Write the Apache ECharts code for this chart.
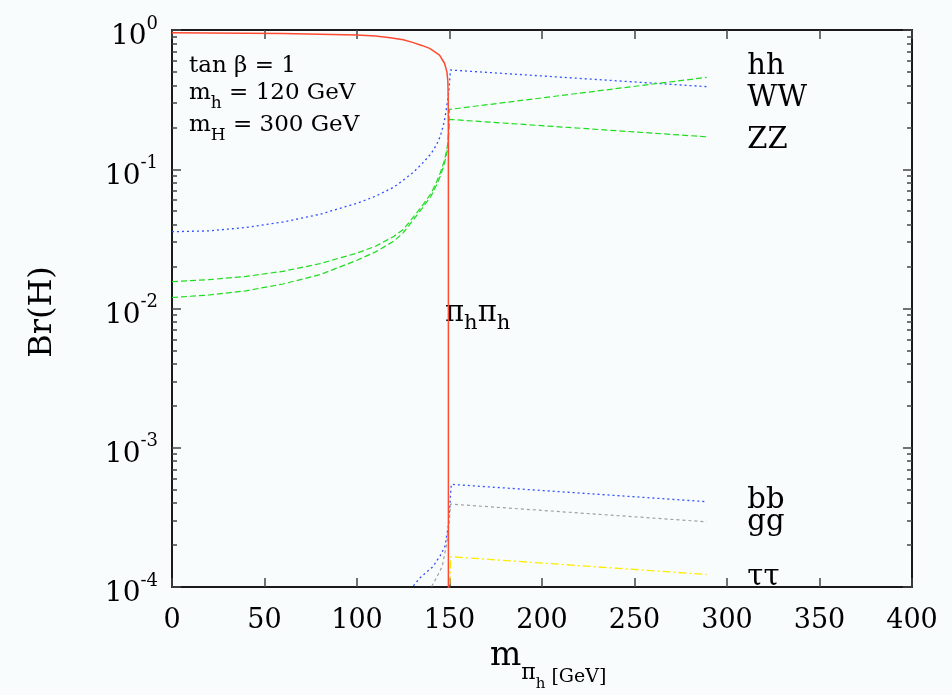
<!DOCTYPE html>
<html>
<head>
<meta charset="utf-8">
<script src="https://cdn.jsdelivr.net/npm/echarts@6/dist/echarts.min.js"></script>
<style>
html,body{margin:0;padding:0;background:#f8fcfd;}
#c{width:952px;height:695px;}
</style>
</head>
<body>
<div id="c"></div>
<script>
// ---------------- data ----------------
const xTickValues = [0, 50, 100, 150, 200, 250, 300, 350, 400];
const yTickExponents = [-4, -3, -2, -1, 0];

// pi_h pi_h (red, solid)
const ppX = [0, 20, 40, 60, 80, 100, 110, 118, 125, 130, 135, 139.3, 144.6, 147.3, 148.6, 149.1, 149.3, 149.4, 149.4];
const ppY = [0.956, 0.953, 0.949, 0.943, 0.934, 0.921, 0.905, 0.88, 0.85, 0.815, 0.775, 0.738, 0.66, 0.577, 0.50, 0.43, 0.33, 0.15, 0.00001];

// hh (blue, dotted)
const hhX = [0, 20, 40, 60, 80, 100, 110, 120, 125, 130, 135, 140, 143, 145, 147, 148, 149, 149.8, 150.5, 289];
const hhY = [0.0356, 0.0361, 0.0382, 0.0418, 0.0475, 0.0570, 0.0640, 0.0745, 0.0835, 0.0940, 0.109, 0.129, 0.150, 0.172, 0.215, 0.255, 0.315, 0.38, 0.516, 0.392];

// WW (green, dashed)
const wwX = [0, 20, 40, 60, 80, 100, 110, 120, 125, 130, 135, 140, 143, 145, 147, 148, 149, 149.5, 150, 289];
const wwY = [0.0156, 0.0161, 0.0170, 0.0185, 0.0210, 0.0250, 0.0280, 0.0330, 0.0370, 0.0445, 0.054, 0.067, 0.081, 0.094, 0.113, 0.128, 0.150, 0.19, 0.269, 0.457];

// ZZ (green, dashed)
const zzX = [0, 20, 40, 60, 80, 100, 110, 120, 125, 130, 135, 140, 143, 145, 147, 148, 149, 149.5, 150, 289];
const zzY = [0.0120, 0.0125, 0.0134, 0.0150, 0.0175, 0.0222, 0.0255, 0.0305, 0.0350, 0.0425, 0.052, 0.064, 0.077, 0.089, 0.107, 0.121, 0.142, 0.17, 0.228, 0.171];

// bb (blue, dotted)
const bbX = [120, 128, 134, 141, 145, 147.5, 149.3, 150.2, 150.6, 151, 289];
const bbY = [0.000079, 0.000093, 0.000116, 0.000140, 0.000168, 0.000195, 0.000270, 0.000380, 0.000470, 0.000546, 0.000410];

// gg (grey)
const ggX = [130, 138, 140.2, 142.9, 146, 148.4, 149.8, 150.6, 289];
const ggY = [0.000080, 0.000093, 0.000100, 0.000116, 0.000140, 0.000200, 0.000290, 0.000394, 0.000294];

// tau tau (yellow, dash-dot)
const ttX = [149.6, 150.3, 150.7, 289];
const ttY = [0.000080, 0.000120, 0.000165, 0.000123];

// channel labels (data coordinates)
const chanNames = ['hh', 'WW', 'ZZ', 'bb', 'gg', 'ττ', 'πhπh'];
const chanLabelX = [311, 311, 311, 311, 311, 311, 147.6];
const chanLabelY = [0.545, 0.325, 0.160, 0.000415, 0.000290, 0.000118, 0.0092];

// ---------------- chart ----------------
const SERIF = '"DejaVu Serif", "Liberation Serif", serif';
const AXIS_COLOR = '#1a1a1a';
const TICK_COLOR = '#444';
const TEXT = '#000';
const zip = (xs, ys) => xs.map((x, i) => [x, ys[i]]);

const yMajorValues = yTickExponents.map(e => Math.pow(10, e));
const yMinorValues = [];
yTickExponents.slice(0, -1).forEach(e => {
  for (let m = 2; m <= 9; m++) yMinorValues.push(m * Math.pow(10, e));
});

function yAxisDef(pos, major) {
  return {
    type: 'log', logBase: 10, min: 1e-4, max: 1, position: pos,
    splitLine: { show: false },
    axisLine: { show: major, lineStyle: { color: AXIS_COLOR, width: 2 } },
    axisTick: {
      show: true, inside: true, length: major ? 9 : 5,
      customValues: major ? yMajorValues : yMinorValues,
      lineStyle: { color: TICK_COLOR, width: 1.5 }
    },
    axisLabel: (major && pos === 'left') ? {
      show: true, customValues: yMajorValues, margin: 14,
      formatter: v => '{b|10}{s|' + Math.round(Math.log10(v)) + '}',
      rich: {
        b: { fontFamily: SERIF, fontSize: 28, color: TEXT, lineHeight: 30, padding: [8, 0, 22, 0], verticalAlign: 'top' },
        s: { fontFamily: SERIF, fontSize: 18, color: TEXT, lineHeight: 6, verticalAlign: 'top' }
      }
    } : { show: false }
  };
}

function xAxisDef(pos, labels) {
  return {
    type: 'value', min: 0, max: 400, interval: 50, position: pos,
    splitLine: { show: false },
    axisLine: { show: true, onZero: false, lineStyle: { color: AXIS_COLOR, width: 2 } },
    axisTick: { show: true, inside: true, length: 9, lineStyle: { color: TICK_COLOR, width: 1.5 } },
    axisLabel: labels ? {
      show: true, margin: 20, fontFamily: SERIF, fontSize: 27, color: TEXT,
      customValues: xTickValues,
      formatter: v => String(v)
    } : { show: false }
  };
}

function lineSeries(name, xs, ys, color, type, width) {
  return {
    type: 'line', name: name, data: zip(xs, ys),
    xAxisIndex: 0, yAxisIndex: 0,
    showSymbol: false, symbol: 'none', smooth: false, clip: true,
    lineStyle: { color: color, width: width || 1.2, type: type },
    animation: false, silent: true
  };
}

const option = {
  backgroundColor: '#f8fcfd',
  animation: false,
  grid: { left: 172, right: 40, top: 30, bottom: 108, containLabel: false },
  xAxis: [xAxisDef('bottom', true), xAxisDef('top', false)],
  yAxis: [yAxisDef('left', true), yAxisDef('left', false), yAxisDef('right', true), yAxisDef('right', false)],
  series: [
    lineSeries('hh', hhX, hhY, '#3350ff', [2, 3], 1.3),
    lineSeries('WW', wwX, wwY, '#1fdd1f', [6, 3], 1.2),
    lineSeries('ZZ', zzX, zzY, '#1fdd1f', [6, 3], 1.2),
    lineSeries('bb', bbX, bbY, '#3350ff', [2, 3], 1.3),
    lineSeries('gg', ggX, ggY, '#a0a0a0', [3, 3], 1.2),
    lineSeries('ττ', ttX, ttY, '#ffea00', [8, 3, 2, 3], 1.3),
    lineSeries('πhπh', ppX, ppY, '#ff4a30', 'solid', 1.5),
    {
      type: 'scatter', xAxisIndex: 0, yAxisIndex: 0, symbolSize: 0,
      itemStyle: { color: '#000' }, silent: true, animation: false,
      data: chanNames.map((n, i) => ({ name: n, value: [chanLabelX[i], chanLabelY[i]] })),
      label: {
        show: true, position: 'right', distance: 0, opacity: 1,
        fontFamily: SERIF, fontSize: 29, color: TEXT,
        formatter: p => p.name === 'πhπh' ? '{p|π}{h|h}{p|π}{h|h}' : p.name,
        rich: {
          p: { fontFamily: SERIF, fontSize: 29, color: TEXT, lineHeight: 30, verticalAlign: 'top' },
          h: { fontFamily: SERIF, fontSize: 21, color: TEXT, lineHeight: 22, padding: [15, 0, 0, 0], verticalAlign: 'top' }
        }
      }
    }
  ],
  graphic: [
    {
      type: 'text', x: 189, y: 55, silent: true,
      style: { text: 'tan β = 1', font: '23px ' + SERIF, fill: TEXT }
    },
    {
      type: 'text', x: 189, y: 82, silent: true,
      style: {
        text: '{a|m}{b|h}{a| = 120 GeV}',
        rich: {
          a: { font: '23px ' + SERIF, fill: TEXT, lineHeight: 26, verticalAlign: 'top' },
          b: { font: '17px ' + SERIF, fill: TEXT, lineHeight: 18, padding: [13, 0, 0, 0], verticalAlign: 'top' }
        }
      }
    },
    {
      type: 'text', x: 189, y: 114, silent: true,
      style: {
        text: '{a|m}{b|H}{a| = 300 GeV}',
        rich: {
          a: { font: '23px ' + SERIF, fill: TEXT, lineHeight: 26, verticalAlign: 'top' },
          b: { font: '17px ' + SERIF, fill: TEXT, lineHeight: 18, padding: [13, 0, 0, 0], verticalAlign: 'top' }
        }
      }
    },
    {
      type: 'text', x: 43, y: 312, rotation: Math.PI / 2, silent: true,
      style: { text: 'Br(H)', font: '32px ' + SERIF, fill: TEXT, align: 'center', verticalAlign: 'middle' }
    },
    {
      type: 'text', x: 490, y: 640, silent: true,
      style: {
        text: '{m|m}{p|π}{h|h}{g| [GeV]}',
        rich: {
          m: { font: '33px ' + SERIF, fill: TEXT, lineHeight: 36, verticalAlign: 'top' },
          p: { font: '22px ' + SERIF, fill: TEXT, lineHeight: 22, padding: [22, 0, 0, 0], verticalAlign: 'top' },
          h: { font: '15px ' + SERIF, fill: TEXT, lineHeight: 15, padding: [37, 0, 0, 0], verticalAlign: 'top' },
          g: { font: '19px ' + SERIF, fill: TEXT, lineHeight: 19, padding: [28, 0, 0, 0], verticalAlign: 'top' }
        }
      }
    }
  ]
};

const chart = echarts.init(document.getElementById('c'), null, { renderer: 'canvas' });
chart.setOption(option);
</script>
</body>
</html>
